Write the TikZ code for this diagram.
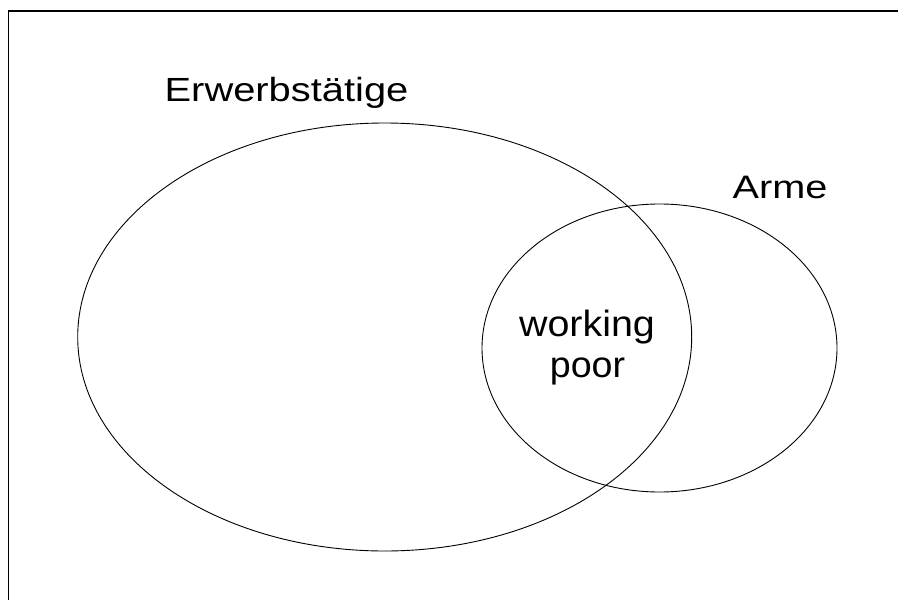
\documentclass[tikz,border=0pt]{standalone}
\usepackage{fontspec}
\setmainfont{Liberation Sans}
\usetikzlibrary{shapes.geometric}
\begin{document}
\begin{tikzpicture}[x=1pt,y=-1pt,
  setring/.style={draw=black, line width=0.9pt, ellipse, inner sep=0pt, fill=none},
  setlabel/.style={anchor=base, inner sep=0pt, text=black}]
  \useasboundingbox (0,0) rectangle (898,600);
  \fill[white] (0,0) rectangle (898,600);
  % outer frame (only its left and top edges fall inside the page)
  \draw[line width=1.4pt] (8.5,600) -- (8.5,11) -- (898,11);
  % the two sets
  \node[setring, minimum width=614pt, minimum height=428pt] (erw) at (384.7,337) {};
  \node[setring, minimum width=355pt, minimum height=288pt] (arme) at (659.5,348) {};
  % labels
  \node[setlabel] (erwlabel) at (286.5,101.7)
    {\fontsize{33.5}{40}\selectfont\scalebox{1.19}[1]{Erwerbstätige}};
  \node[setlabel] (armelabel) at (780,198)
    {\fontsize{32.5}{40}\selectfont\scalebox{1.22}[1]{Arme}};
  \node[setlabel] (wp1) at (587,336.7)
    {\fontsize{36.5}{40}\selectfont\scalebox{1.08}[1]{working}};
  \node[setlabel] (wp2) at (587.5,377)
    {\fontsize{36.5}{40}\selectfont\scalebox{1.03}[1]{poor}};
\end{tikzpicture}
\end{document}
